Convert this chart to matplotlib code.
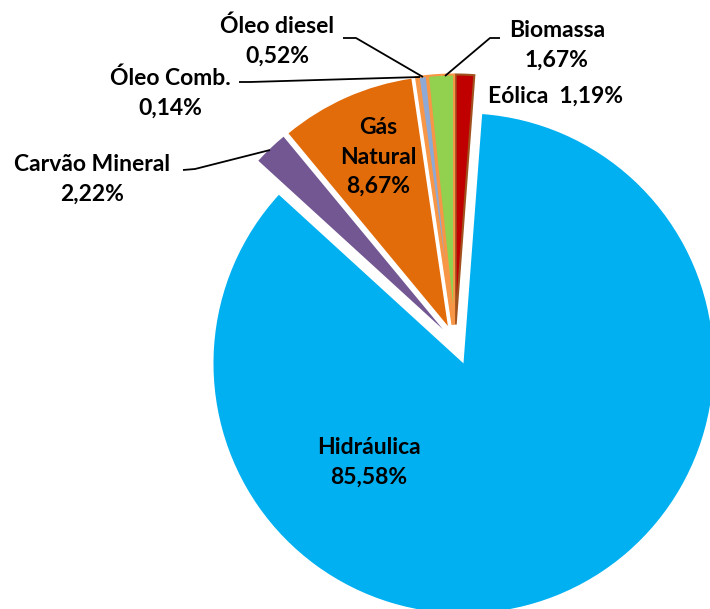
import matplotlib
matplotlib.use("Agg")
import matplotlib.pyplot as plt

categories = ["Eólica", "Hidráulica", "Carvão Mineral", "Gás Natural",
              "Óleo Comb.", "Óleo diesel", "Biomassa"]
values = [1.19, 85.58, 2.22, 8.67, 0.14, 0.52, 1.67]
colors = ["#C00000", "#00B0F0", "#725792", "#E36C0A", "#C0591A", "#8EA9D6", "#92D050"]
edgecolors = ["#A0521E", "none", "none", "none", "#F79646", "#F79646", "#F79646"]
explode = [0.07, 0.092, 0.07, 0.07, 0.07, 0.07, 0.07]

plt.rcParams['font.family'] = ['Lato', 'DejaVu Sans']

W, H = 710, 609
fig = plt.figure(figsize=(W / 100, H / 100), dpi=100)
ax = fig.add_axes([0, 0, 1, 1])

CX, CY, R = 455, 342, 250  # pixel center and radius


def P(px, py):
    return ((px - CX) / R, (CY - py) / R)


wedges, _ = ax.pie(values, explode=explode, colors=colors, startangle=90,
                   counterclock=False, radius=1.0)
for w, ec in zip(wedges, edgecolors):
    if ec == "none":
        w.set_edgecolor("none")
        w.set_linewidth(0)
    else:
        w.set_edgecolor(ec)
        w.set_linewidth(1.5)

ax.set_xlim(-CX / R, (W - CX) / R)
ax.set_ylim((CY - H) / R, CY / R)
ax.set_aspect("equal")
ax.axis("off")


def pct(v):
    return f"{v:.2f}".replace(".", ",") + "%"


fs = 16.5
ls = 1.5
tk = dict(fontsize=fs, fontweight="bold", ha="center", va="center", color="black")

# labels
ax.text(*P(369, 462), f"{categories[1]}\n{pct(values[1])}", linespacing=ls, **tk)
ax.text(*P(378, 157), f"Gás\nNatural\n{pct(values[3])}", linespacing=ls, **tk)
ax.text(*P(92, 179), f"{categories[2]}\n{pct(values[2])}", linespacing=ls, **tk)
ax.text(*P(170, 93), f"{categories[4]}\n{pct(values[4])}", linespacing=ls, **tk)
ax.text(*P(277, 41), f"{categories[5]}\n{pct(values[5])}", linespacing=ls, **tk)
ax.text(*P(557, 45), f"{categories[6]}\n{pct(values[6])}", linespacing=ls, **tk)
ax.text(*P(555, 96), f"{categories[0]}  {pct(values[0])}", **tk)

# leader lines
def leader(pts):
    xs, ys = zip(*[P(x, y) for x, y in pts])
    ax.plot(xs, ys, color="black", lw=1.3, solid_capstyle="butt")

leader([(343, 38), (356, 38), (423, 77)])
leader([(500, 38), (490, 38), (445, 76)])
leader([(239, 82), (250, 82), (420, 77)])
leader([(183, 170), (195, 169), (270, 150)])

fig.savefig("out.png", dpi=100)
